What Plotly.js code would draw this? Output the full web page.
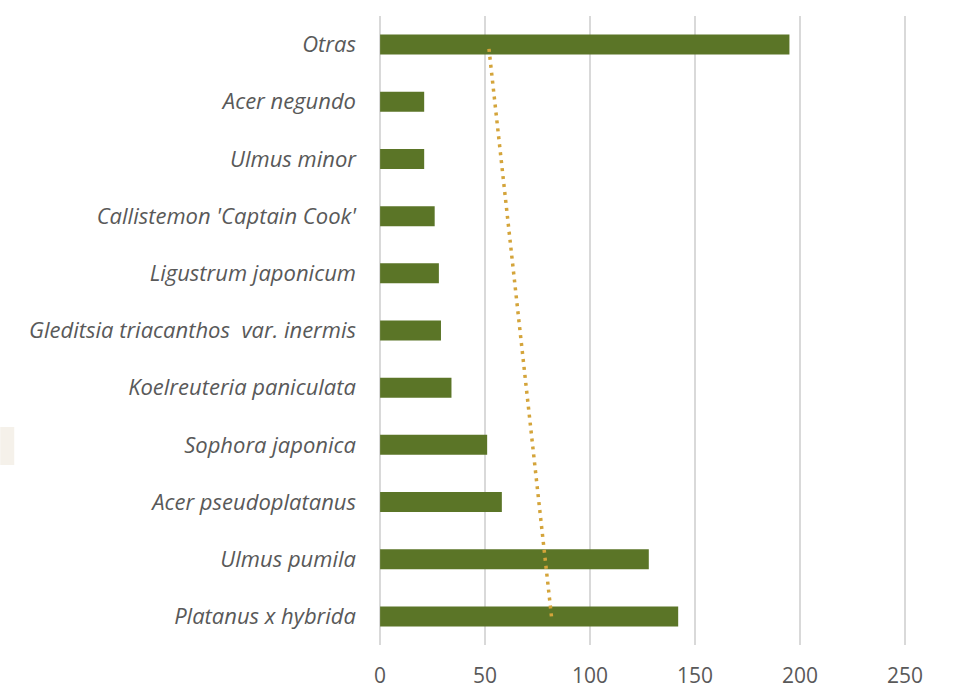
<!DOCTYPE html>
<html>
<head>
<meta charset="utf-8">
<script src="https://cdn.plot.ly/plotly-3.0.1.min.js"></script>
<style>html,body{margin:0;padding:0;background:#fff;}#chart{width:956px;height:690px;}</style>
</head>
<body>
<div id="chart"></div>
<script>
// Categories listed bottom to top
const species = [
  "Platanus x hybrida",
  "Ulmus pumila",
  "Acer pseudoplatanus",
  "Sophora japonica",
  "Koelreuteria paniculata",
  "Gleditsia triacanthos \u00a0var. inermis",
  "Ligustrum japonicum",
  "Callistemon 'Captain Cook'",
  "Ulmus minor",
  "Acer negundo",
  "Otras"
];
const counts = [142, 128, 58, 51, 34, 29, 28, 26, 21, 21, 195];
const xTicks = [0, 50, 100, 150, 200, 250];

// Linear trendline (least squares over category index), as in the source chart
const n = counts.length;
const idx = counts.map((_, i) => i + 1);
const mi = idx.reduce((a, b) => a + b, 0) / n;
const mv = counts.reduce((a, b) => a + b, 0) / n;
let sxy = 0, sxx = 0;
for (let i = 0; i < n; i++) { sxy += (idx[i] - mi) * (counts[i] - mv); sxx += (idx[i] - mi) ** 2; }
const slope = sxy / sxx, icpt = mv - slope * mi;
const trendX = [icpt + slope * idx[0], icpt + slope * idx[n - 1]];
const trendY = [species[0], species[n - 1]];

const fam = "'Open Sans', sans-serif";

const data = [
  {type: "bar", orientation: "h", y: species, x: counts, width: 0.35,
   marker: {color: "#5b7527", line: {width: 0}}, hoverinfo: "x+y"},
  {type: "scatter", mode: "lines", x: trendX, y: trendY,
   line: {color: "#d4a43a", width: 3.5, dash: "3px,5px"}, hoverinfo: "skip"}
];

const layout = {
  width: 956, height: 690,
  margin: {l: 377.9, r: 48.9, t: 16, b: 45},
  paper_bgcolor: "#fff", plot_bgcolor: "#fff",
  showlegend: false,
  font: {family: fam, size: 20, color: "#595959"},
  xaxis: {range: [-1, 251], tickvals: xTicks, ticktext: xTicks.map(String),
          showgrid: true, gridcolor: "#d9d9d9", gridwidth: 2, zeroline: false,
          showline: false, ticks: "", ticklabelstandoff: 16,
          tickfont: {family: fam, size: 21, color: "#595959"}, fixedrange: true},
  yaxis: {type: "category", range: [-0.5, 10.5], showgrid: false, zeroline: false,
          showline: false, ticks: "", ticklabelstandoff: 21,
          tickfont: {family: fam, size: 22, color: "#595959", style: "italic"}, fixedrange: true},
  shapes: [
    {type: "rect", xref: "paper", yref: "paper", x0: -377.9/529.2, x1: -363.9/529.2,
     y0: (645-465)/629, y1: (645-427)/629, fillcolor: "#f5f1ea", line: {width: 0}, layer: "below"}
  ]
};

Plotly.newPlot("chart", data, layout, {displayModeBar: false, staticPlot: true});
</script>
</body>
</html>
